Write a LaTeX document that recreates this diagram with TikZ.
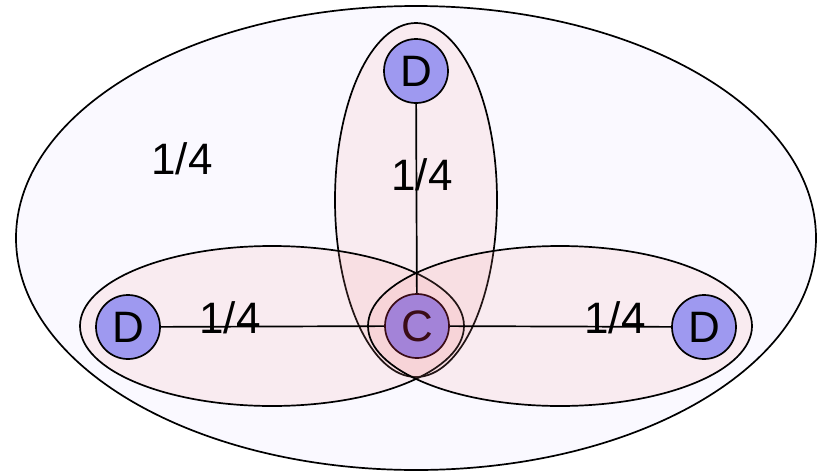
\documentclass[tikz,border=0pt]{standalone}
\usepackage{fontspec}
\setmainfont{Liberation Sans}
\definecolor{outerfill}{HTML}{FAF9FF}
\definecolor{partfill}{HTML}{F59696}
\definecolor{vertexfill}{HTML}{9E99F0}
\definecolor{centrefill}{HTML}{A383D8}
\definecolor{centretext}{HTML}{3A0C16}

\begin{document}
\begin{tikzpicture}[x=1pt,y=-1pt,line width=1.7pt,
		vertex/.style={circle,draw,fill=vertexfill,minimum size=64pt,inner sep=0pt,font=\fontsize{44}{48}\selectfont},
		part/.style={draw,fill=partfill,fill opacity=0.14},
		weight/.style={font=\fontsize{44}{48}\selectfont}]
		\useasboundingbox (0,0) rectangle (823,472);
		\filldraw[fill=outerfill] (416,238) ellipse [x radius=400,y radius=232];
		\filldraw[part] (416,200) ellipse [x radius=81,y radius=177];
		\filldraw[part] (272,326) ellipse [x radius=192,y radius=80];
		\filldraw[part] (560,326) ellipse [x radius=192,y radius=80];
		\node[vertex,fill=centrefill,text=centretext,draw=centretext] (c) at (417,326) {C};
		\node[vertex] (dtop) at (416,71) {D};
		\node[vertex] (dleft) at (128,327) {D};
		\node[vertex] (dright) at (704,327) {D};
		\foreach \d in {dtop,dleft,dright}
			\draw (c)--(\d);
		\node[weight] (wout) at (182,159) {1/4};
		\node[weight] (wtop) at (422,175) {1/4};
		\node[weight] (wleft) at (230,318) {1/4};
		\node[weight] (wright) at (615,318) {1/4};
	\end{tikzpicture}
\end{document}
